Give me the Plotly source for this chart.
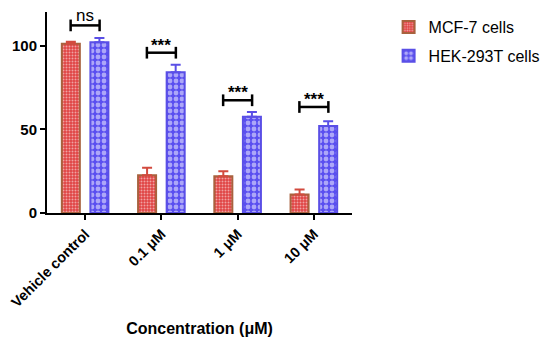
import plotly.graph_objects as go

categories = ["Vehicle control", "0.1 μM", "1 μM", "10 μM"]
mcf7_values = [101, 22.5, 22, 11]
mcf7_err = [1.2, 4.5, 3, 3]
hek_values = [102, 84, 57.5, 52]
hek_err = [2.5, 4.5, 2.8, 2.8]
sig_levels = [112, 95.7, 67.3, 63.3]
sig_labels = ["ns", "***", "***", "***"]
y_ticks = [0, 50, 100]

FONT = "Arial, Liberation Sans, sans-serif"
xpos = list(range(len(categories)))

fig = go.Figure()
fig.add_trace(go.Bar(
    x=xpos, y=mcf7_values, name="MCF-7 cells", legendgroup="a",
    marker=dict(color="#e04444", line=dict(color="#a8623e", width=2),
                pattern=dict(shape=".", fgcolor="white", size=3, solidity=0.35, fillmode="overlay")),
    error_y=dict(type="data", array=mcf7_err, arrayminus=[0]*4, symmetric=False,
                 color="#d24a3e", thickness=2, width=5),
))
fig.add_trace(go.Bar(
    x=xpos, y=hek_values, name="HEK-293T cells", legendgroup="b",
    marker=dict(color="#5a4ff0", line=dict(color="#5a4fe6", width=2),
                pattern=dict(shape=".", fgcolor="white", size=6, solidity=0.5, fillmode="overlay")),
    error_y=dict(type="data", array=hek_err, arrayminus=[0]*4, symmetric=False,
                 color="#5a4fe6", thickness=2, width=5),
))

off = 0.19
for i, (lvl, lab) in enumerate(zip(sig_levels, sig_labels)):
    xs = [i - off, i - off, None, i - off, i + off, None, i + off, i + off]
    ys = [lvl - 3.5, lvl + 3.5, None, lvl, lvl, None, lvl - 3.5, lvl + 3.5]
    fig.add_trace(go.Scatter(x=xs, y=ys, mode="lines", line=dict(color="black", width=2.5),
                             showlegend=False, hoverinfo="skip"))
    if lab == "ns":
        fig.add_annotation(x=i, y=lvl + 6.2, text=lab, showarrow=False,
                           font=dict(family=FONT, size=17, color="black"))
    else:
        fig.add_annotation(x=i, y=lvl + 4.6, text="<b>" + lab + "</b>", showarrow=False,
                           font=dict(family=FONT, size=17, color="black"))

# page body has an 8px margin, so the figure is drawn 8px smaller and margins shifted
fig.update_layout(
    width=542, height=333,
    margin=dict(l=39, r=198, t=4, b=128, autoexpand=False),
    paper_bgcolor="white", plot_bgcolor="white",
    barmode="group", bargap=0.25, bargroupgap=0.37,
    font=dict(family=FONT, color="black"),
    showlegend=True,
    legend=dict(x=1.12, y=1.01, xanchor="left", yanchor="top",
                font=dict(family=FONT, size=16, color="black"),
                tracegroupgap=5, bgcolor="rgba(0,0,0,0)"),
)
fig.update_xaxes(
    range=[-0.5, 3.5], tickmode="array", tickvals=xpos,
    ticktext=["<b>" + c + "</b>" for c in categories],
    tickangle=-45, tickfont=dict(family=FONT, size=14.5, color="black"),
    ticklabeloverflow="allow",
    showline=True, linecolor="black", linewidth=2,
    ticks="outside", ticklen=5, tickwidth=1.5, tickcolor="black",
    showgrid=False, zeroline=False, automargin=False,
    title=dict(text="<b>Concentration (μM)</b>", font=dict(family=FONT, size=16, color="black"), standoff=13),
)
fig.update_yaxes(
    range=[0, 120], tickmode="array", tickvals=y_ticks,
    ticktext=["<b>%d</b>" % v for v in y_ticks],
    tickfont=dict(family=FONT, size=15, color="black"),
    showline=True, linecolor="black", linewidth=2,
    ticks="outside", ticklen=5, tickwidth=2, tickcolor="black",
    showgrid=False, zeroline=False, automargin=False,
)

fig.write_html("out.html")
